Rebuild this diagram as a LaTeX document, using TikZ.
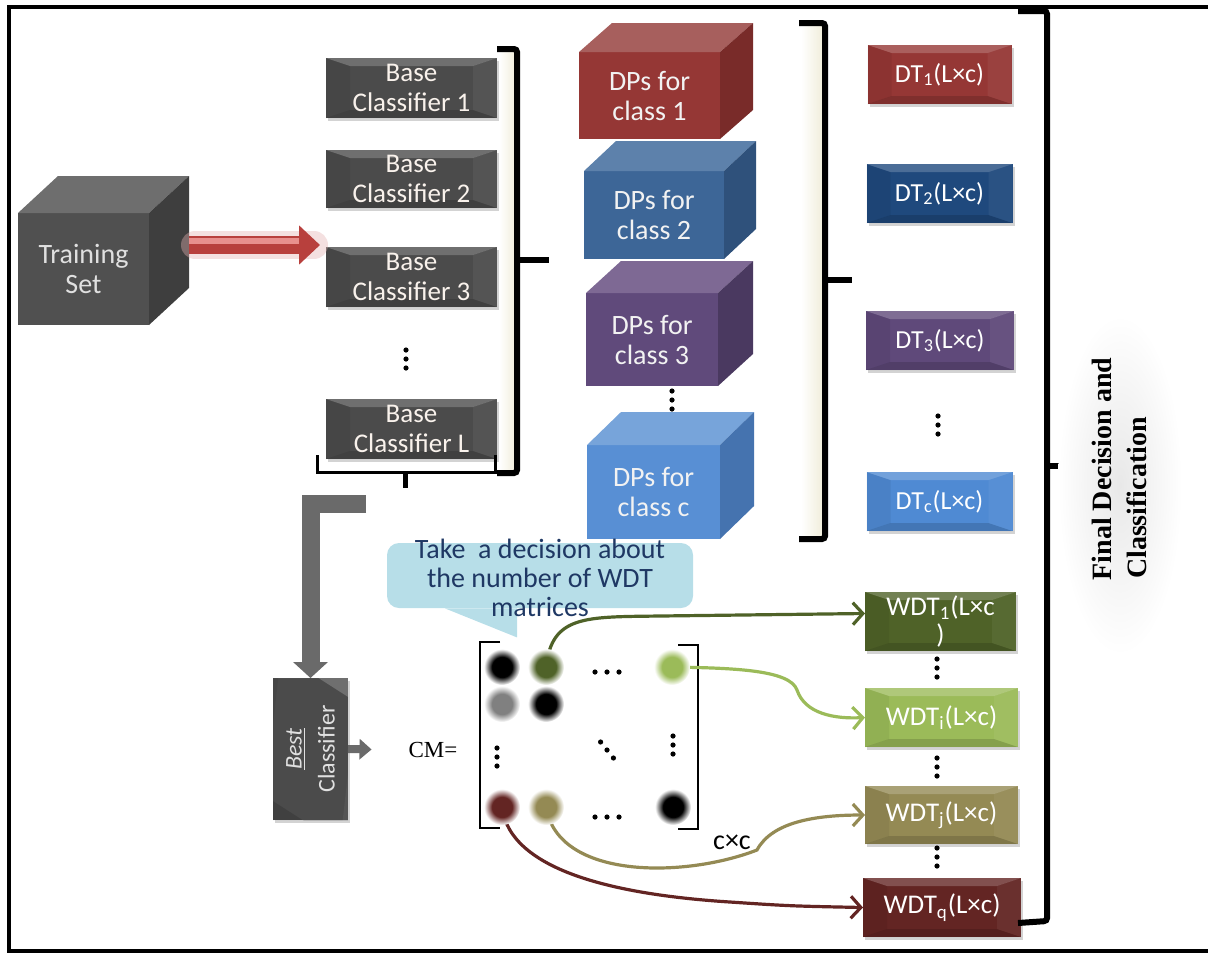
\documentclass[tikz,border=0pt]{standalone}
\usepackage{fontspec}
\setmainfont{Carlito}
\newfontfamily\seriffont{Liberation Serif}
\usetikzlibrary{arrows.meta,shadows}

\definecolor{bcgray}{HTML}{4B4B4B}
\definecolor{traingray}{HTML}{505050}
\definecolor{traintop}{HTML}{6E6E6E}
\definecolor{trainside}{HTML}{3E3E3E}
\definecolor{lgray}{HTML}{6A6A6A}
\definecolor{dpone}{HTML}{953735}
\definecolor{dponetop}{HTML}{A75F5D}
\definecolor{dponeside}{HTML}{792B29}
\definecolor{dptwo}{HTML}{3D6697}
\definecolor{dptwotop}{HTML}{5D81AB}
\definecolor{dptwoside}{HTML}{2F517B}
\definecolor{dpthree}{HTML}{604A7B}
\definecolor{dpthreetop}{HTML}{7E6994}
\definecolor{dpthreeside}{HTML}{4A3960}
\definecolor{dpc}{HTML}{588FD4}
\definecolor{dpctop}{HTML}{77A4DA}
\definecolor{dpcside}{HTML}{4573AF}
\definecolor{dtone}{HTML}{953735}
\definecolor{dttwo}{HTML}{1F497D}
\definecolor{dtthree}{HTML}{5F497A}
\definecolor{dtc}{HTML}{4F8AD3}
\definecolor{wdtone}{HTML}{4F6228}
\definecolor{wdti}{HTML}{9BBB59}
\definecolor{wdtj}{HTML}{948A54}
\definecolor{wdtq}{HTML}{632523}
\definecolor{redarrow}{HTML}{B8403D}
\definecolor{redlight}{HTML}{E8908E}
\definecolor{notefill}{HTML}{B7DEE8}
\definecolor{notetext}{HTML}{1F3864}
\definecolor{cream}{HTML}{F1EEDC}

% colour of the fuzzy matrix dots
\colorlet{dotcol}{black}
\pgfdeclareradialshading[dotcol]{blurdot}{\pgfpointorigin}{color(0bp)=(dotcol); color(14bp)=(dotcol); color(25bp)=(white); color(50bp)=(white)}

% bevel faces of the flat boxes
\newcommand{\bevelfaces}{%
  \fill[white,opacity=.2] (path picture bounding box.north west) -- (path picture bounding box.north east)
     -- ([shift={(-12pt,-4pt)}]path picture bounding box.north east) -- ([shift={(12pt,-4pt)}]path picture bounding box.north west) -- cycle;
  \fill[black,opacity=.14] (path picture bounding box.south west) -- (path picture bounding box.south east)
     -- ([shift={(-12pt,4pt)}]path picture bounding box.south east) -- ([shift={(12pt,4pt)}]path picture bounding box.south west) -- cycle;
  \fill[black,opacity=.06] (path picture bounding box.north west) -- ([shift={(12pt,-4pt)}]path picture bounding box.north west)
     -- ([shift={(12pt,4pt)}]path picture bounding box.south west) -- (path picture bounding box.south west) -- cycle;
  \fill[white,opacity=.05] (path picture bounding box.north east) -- ([shift={(-12pt,-4pt)}]path picture bounding box.north east)
     -- ([shift={(-12pt,4pt)}]path picture bounding box.south east) -- (path picture bounding box.south east) -- cycle;}

% top and side of a cube: node, dx, dy, top colour, side colour
\newcommand{\cubefaces}[5]{%
  \fill[#4] (#1.north west) -- ([shift={(#2,#3)}]#1.north west) -- ([shift={(#2,#3)}]#1.north east) -- (#1.north east) -- cycle;
  \fill[#5] (#1.north east) -- ([shift={(#2,#3)}]#1.north east) -- ([shift={(#2,#3)}]#1.south east) -- (#1.south east) -- cycle;}

\newcommand{\blurdot}[4]{\coordinate (#1) at (#2,#3); \colorlet{dotcol}{#4}\shade[shading=blurdot] (#1) circle (18);}
\newcommand{\vdotsat}[2]{\foreach \k in {-9,0,9} \fill (#1,#2+\k) circle (2.6);}
\newcommand{\hdotsat}[2]{\foreach \k in {-12,0,12} \fill (#1+\k,#2) circle (2.6);}

\tikzset{
  slab/.style={fill=#1, path picture={\bevelfaces}, text=white, inner sep=0pt, outer sep=0pt, align=center,
    drop shadow={opacity=.35, shadow xshift=1pt, shadow yshift=-1.5pt}},
  cubefront/.style={fill=#1, text=white, inner sep=0pt, outer sep=0pt, align=center},
  bracket/.style={line width=3pt, rounded corners=1.5pt},
  wdtline/.style={line width=1.6pt, draw=#1, -{Straight Barb[length=5pt,width=11pt]}},
  bcfont/.style={font=\fontsize{13.5}{15}\selectfont, text=white!90!brown},
  dpfont/.style={font=\fontsize{14}{15}\selectfont, text=white!95!black},
  dtfont/.style={font=\fontsize{13}{14}\selectfont},
  wdtfont/.style={font=\fontsize{13.5}{14}\selectfont},
}

\begin{document}
\begin{tikzpicture}[x=0.5pt,y=-0.5pt]

  \useasboundingbox (0,0) rectangle (1208,954);
  \draw[line width=1.6pt] (1216,7) -- (9,7) -- (9,951) -- (1216,951);

  % training set cube
  \node[cubefront=traingray, minimum width=65.5pt, minimum height=56pt, font=\fontsize{14}{15}\selectfont, text=white!88!black] (train) at (83.5,269) {Training\\Set};
  \cubefaces{train}{40}{-37}{traintop}{trainside}

  % base classifiers
  \node[slab=bcgray, bcfont, minimum width=85.5pt, minimum height=30pt] (bc1) at (411.5,88) {Base\\Classifier 1};
  \node[slab=bcgray, bcfont, minimum width=85.5pt, minimum height=29pt] (bc2) at (411.5,179) {Base\\Classifier 2};
  \node[slab=bcgray, bcfont, minimum width=85.5pt, minimum height=30pt] (bc3) at (411.5,277) {Base\\Classifier 3};
  \node[slab=bcgray, bcfont, minimum width=85.5pt, minimum height=30pt] (bcL) at (411.5,429) {Base\\Classifier L};
  \vdotsat{406}{359}

  \draw[line width=14pt, redarrow!40, opacity=.4, line cap=round] ([shift={(23pt,12pt)}]train.east) -- ([shift={(-6pt,16pt)}]bc3.west);
  \draw[line width=9pt, redarrow, -{Triangle[width=19pt,length=10.5pt]}] ([shift={(20pt,12pt)}]train.east) -- ([shift={(-3pt,16pt)}]bc3.west);
  \draw[line width=3pt, redlight] ([shift={(20pt,13.8pt)}]train.east) -- ([shift={(-13.5pt,17.8pt)}]bc3.west);

  % bracket round the base classifiers
  \shade[left color=white, right color=cream] (499,50) rectangle (515,472);
  \draw[bracket] (497,49) -- (517,49) -- (517,473) -- (497,473);
  \draw[bracket] (517,260) -- (549,260);
  \draw[line width=1.5pt] (317,455) -- (317,472) -- (495,472) -- (495,455);
  \draw[line width=2.5pt] (405,472) -- (405,488);

  % decision profiles
  \node[cubefront=dpone, dpfont, minimum width=70.5pt, minimum height=43.5pt] (dp1) at (649.5,95.5) {DPs for\\class 1};
  \cubefaces{dp1}{33}{-29}{dponetop}{dponeside}
  \node[cubefront=dptwo, dpfont, minimum width=70pt, minimum height=44pt] (dp2) at (654,215) {DPs for\\class 2};
  \cubefaces{dp2}{32}{-30}{dptwotop}{dptwoside}
  \node[cubefront=dpthree, dpfont, minimum width=66pt, minimum height=46.5pt] (dp3) at (652,339.5) {DPs for\\class 3};
  \cubefaces{dp3}{35}{-32}{dpthreetop}{dpthreeside}
  \vdotsat{672}{400}
  \node[cubefront=dpc, dpfont, minimum width=66.5pt, minimum height=47pt] (dpc) at (653.5,492) {DPs for\\class c};
  \cubefaces{dpc}{34}{-33}{dpctop}{dpcside}

  \shade[left color=white, right color=cream] (801,24) rectangle (822,538);
  \draw[bracket] (799,23) -- (825,23) -- (825,539) -- (799,539);
  \draw[bracket] (825,280) -- (852,280);

  % decision templates
  \node[slab=dtone, dtfont, minimum width=72pt, minimum height=29.5pt] (dt1) at (939.5,74.5) {DT\textsubscript{1}(L×c)};
  \node[slab=dttwo, dtfont, minimum width=73pt, minimum height=29.5pt] (dt2) at (939.5,193.5) {DT\textsubscript{2}(L×c)};
  \node[slab=dtthree, dtfont, minimum width=74pt, minimum height=29.5pt] (dt3) at (940,340.5) {DT\textsubscript{3}(L×c)};
  \vdotsat{938}{425}
  \node[slab=dtc, dtfont, minimum width=73pt, minimum height=29.5pt] (dtc) at (939.5,501.5) {DT\textsubscript{c}(L×c)};

  % weighted decision templates
  \node[slab=wdtone, wdtfont, minimum width=75.5pt, minimum height=29.5pt] (wdt1) at (940.5,621.5) {WDT\textsubscript{1}(L×c\\)};
  \vdotsat{937}{668}
  \node[slab=wdti, wdtfont, minimum width=76.5pt, minimum height=29.5pt] (wdti) at (941.5,717.5) {WDT\textsubscript{i}(L×c)};
  \vdotsat{937}{767}
  \node[slab=wdtj, wdtfont, minimum width=76.5pt, minimum height=29pt] (wdtj) at (941.5,815) {WDT\textsubscript{j}(L×c)};
  \vdotsat{937}{857}
  \node[slab=wdtq, wdtfont, minimum width=79pt, minimum height=29.5pt] (wdtq) at (942,907.5) {WDT\textsubscript{q}(L×c)};

  % final brace
  \draw[bracket] (1018,11) -- (1047,11) -- (1047,921) -- (1018,923);
  \draw[bracket] (1047,466) -- (1081,466);
  \shade[inner color=black!9, outer color=white] (1120,485) ellipse (62 and 170);
  \node[rotate=90, font=\seriffont\bfseries\fontsize{14}{17.5}\selectfont, align=center] (final) at (1119,469) {Final Decision and\\Classification\hspace*{29pt}};

  % best classifier (rotated: east is up, south is right)
  \node[slab=bcgray, rotate=90, font=\fontsize{12}{16.5}\selectfont, text=white!88!black, minimum width=71pt, minimum height=37.5pt] (best) at (310.5,749) {\underline{\textit{Best}}\\Classifier};
  \coordinate (lstart) at (366,503.5);
  \draw[line width=9pt, lgray, -{Triangle[width=17pt,length=8pt]}] (lstart) -| (best.east);
  \node[font=\seriffont\fontsize{11.5}{13}\selectfont] (cm) at (433,750) {CM=};
  \draw[line width=4pt, lgray, shorten >=15pt, -{Triangle[width=10pt,length=6pt]}] (best.south) -- (cm.west);

  % note about the number of WDT matrices
  \node[fill=notefill, rounded corners=6pt, minimum width=153pt, minimum height=32.5pt] (bubble) at (540,575.5) {};
  \fill[notefill] ([xshift=-47.5pt]bubble.south) -- ([shift={(-11.5pt,-14.5pt)}]bubble.south) -- ([xshift=-11.5pt]bubble.south) -- cycle;
  \node[font=\fontsize{14}{14.5}\selectfont, text=notetext, align=center] (note) at (540,578) {Take\ \ a decision about\\the number of WDT\\matrices};

  % confusion matrix
  \draw[line width=1.2pt] (500,642) -- (480,642) -- (480,828) -- (500,828);
  \draw[line width=1.2pt] (678,645) -- (698,645) -- (698,829) -- (678,829);
  \hdotsat{607}{672}
  \hdotsat{607}{817}
  \vdotsat{497}{757}
  \vdotsat{673}{745}
  \foreach \k in {-8,0,8} \fill (607+0.8*\k,750+\k) circle (2.6);
  \node[font=\fontsize{14}{14}\selectfont] (cxc) at (732,842) {c×c};

  \draw[wdtline=wdtone] (546,667) .. controls (552,615) and (585,617) .. (660,616) -- ([yshift=4pt]wdt1.west);
  \draw[wdtline=wdti] (672,667) .. controls (735,668) and (790,670) .. (797,690) .. controls (805,714) and (835,719) .. (wdti.west);
  \draw[wdtline=wdtj] (546,807) .. controls (558,880) and (685,878) .. (757,850) .. controls (772,822) and (815,815) .. (wdtj.west);
  \draw[wdtline=wdtq] (502,807) .. controls (510,872) and (620,895) .. (730,902) .. controls (790,906) .. (wdtq.west);

  \blurdot{c11}{502}{667}{black}
  \blurdot{c12}{546}{667}{wdtone}
  \blurdot{c1n}{672}{667}{wdti}
  \blurdot{c21}{502}{704}{black!50}
  \blurdot{c22}{546}{704}{black}
  \blurdot{cn1}{502}{807}{wdtq}
  \blurdot{cn2}{546}{807}{wdtj}
  \blurdot{cnn}{673}{807}{black}

\end{tikzpicture}
\end{document}
